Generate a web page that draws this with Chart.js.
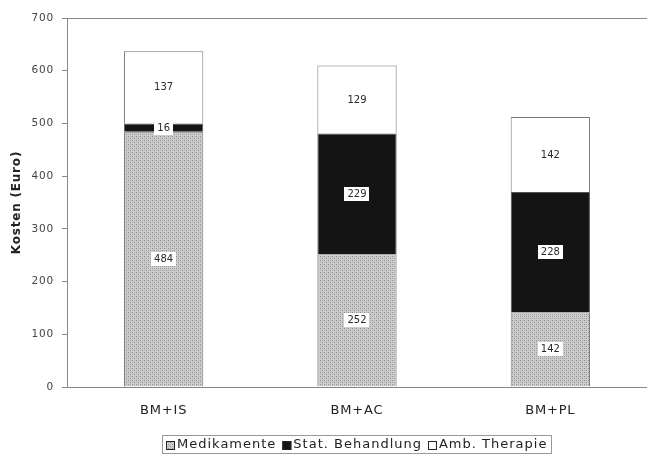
<!DOCTYPE html>
<html>
<head>
<meta charset="utf-8">
<script src="https://cdn.jsdelivr.net/npm/chart.js@4.4.1/dist/chart.umd.min.js"></script>
<style>
  html, body { margin: 0; padding: 0; background: #fff; }
  #wrap { width: 647px; height: 454px; }
</style>
</head>
<body>
<div id="wrap"><canvas id="c" width="647" height="454"></canvas></div>
<script>
// Treatment strategies and their cost components (Euro)
const categories = ['BM+IS', 'BM+AC', 'BM+PL'];
const medikamente = [484, 252, 142];
const stationaer = [16, 229, 228];
const ambulant = [137, 129, 142];
const yTicks = [0, 100, 200, 300, 400, 500, 600, 700];

const FONT = 'DejaVu Sans';

// Fine grey dot hatch used for the drug costs
function makeDotPattern() {
  const p = document.createElement('canvas');
  p.width = 4; p.height = 4;
  const g = p.getContext('2d');
  g.fillStyle = '#cdcdcd';
  g.fillRect(0, 0, 4, 4);
  g.fillStyle = '#8e8e8e';
  g.fillRect(0, 0, 1, 1);
  g.fillRect(2, 2, 1, 1);
  g.fillStyle = '#adadad';
  g.fillRect(2, 0, 1, 1);
  g.fillRect(0, 2, 1, 1);
  return g.createPattern(p, 'repeat');
}
const dotPattern = makeDotPattern();

// Slightly spaced lettering for axis text
const axisLetterSpacing = {
  id: 'axisLetterSpacing',
  beforeDraw(chart) { chart.ctx.letterSpacing = '0.8px'; },
  beforeDatasetsDraw(chart) { chart.ctx.letterSpacing = '0px'; }
};

// White boxed value labels centred in each segment
const segmentLabels = {
  id: 'segmentLabels',
  afterDatasetsDraw(chart) {
    const ctx = chart.ctx;
    ctx.save();
    ctx.letterSpacing = '0px';
    ctx.font = '10px ' + FONT;
    ctx.textAlign = 'center';
    ctx.textBaseline = 'middle';
    chart.data.datasets.forEach((ds, di) => {
      const meta = chart.getDatasetMeta(di);
      meta.data.forEach((el, i) => {
        const v = ds.data[i];
        const x = el.x;
        const y = (el.y + el.base) / 2;
        const txt = String(v);
        const w = ctx.measureText(txt).width + 6;
        const h = 14;
        ctx.fillStyle = '#ffffff';
        ctx.fillRect(Math.round(x - w / 2), Math.round(y - h / 2), Math.round(w), h);
        ctx.fillStyle = '#2a2a2a';
        ctx.fillText(txt, x, y + 0.5);
      });
    });
    ctx.restore();
  }
};

// Top frame line and boxed legend below the axis
const frameAndLegend = {
  id: 'frameAndLegend',
  afterDraw(chart) {
    const ctx = chart.ctx;
    const a = chart.chartArea;
    ctx.save();
    ctx.strokeStyle = '#888888';
    ctx.lineWidth = 1;
    ctx.beginPath();
    ctx.moveTo(a.left, a.top + 0.5);
    ctx.lineTo(chart.width, a.top + 0.5);
    ctx.stroke();

    ctx.font = '13px ' + FONT;
    ctx.letterSpacing = '1px';
    ctx.textBaseline = 'middle';
    ctx.textAlign = 'left';
    const sq = 9, gapSq = 2, gapItem = 6;
    const items = chart.data.datasets.map(ds => ({
      label: ds.label, fill: ds.backgroundColor,
      w: sq + gapSq + ctx.measureText(ds.label).width
    }));
    const total = items.reduce((s, it) => s + it.w, 0) + gapItem * (items.length - 1);
    const padX = 4;
    const cx = (a.left + a.right) / 2;
    const boxL = Math.round(cx - total / 2 - padX);
    const boxW = Math.round(total + 2 * padX);
    const boxT = 435, boxH = 18;
    ctx.strokeStyle = '#999999';
    ctx.strokeRect(boxL + 0.5, boxT + 0.5, boxW, boxH);
    const cy = boxT + boxH / 2 + 1;
    let x = boxL + padX;
    items.forEach(it => {
      ctx.fillStyle = it.fill;
      ctx.fillRect(x, Math.round(cy - sq / 2), sq, sq);
      ctx.strokeStyle = '#222222';
      ctx.strokeRect(x + 0.5, Math.round(cy - sq / 2) + 0.5, sq - 1, sq - 1);
      ctx.fillStyle = '#222222';
      ctx.fillText(it.label, x + sq + gapSq, cy);
      x += it.w + gapItem;
    });
    ctx.restore();
  }
};

new Chart(document.getElementById('c'), {
  type: 'bar',
  data: {
    labels: categories,
    datasets: [
      { label: 'Medikamente', data: medikamente, backgroundColor: dotPattern,
        borderColor: '#777777', borderWidth: 1 },
      { label: 'Stat. Behandlung', data: stationaer, backgroundColor: '#141414',
        borderColor: '#555555', borderWidth: 1 },
      { label: 'Amb. Therapie', data: ambulant, backgroundColor: '#ffffff',
        borderColor: '#777777', borderWidth: 1 }
    ]
  },
  options: {
    responsive: false,
    animation: false,
    events: [],
    layout: { padding: { top: 18, left: 0, right: 0, bottom: 0 } },
    datasets: { bar: { categoryPercentage: 0.41, barPercentage: 1 } },
    plugins: {
      legend: { display: false },
      tooltip: { enabled: false },
      title: { display: false }
    },
    scales: {
      x: {
        stacked: true,
        grid: { drawOnChartArea: false, drawTicks: false },
        border: { color: '#888888', width: 1 },
        ticks: { font: { family: FONT, size: 13 }, color: '#222222', padding: 16 },
        afterFit(scale) { scale.height = 67; }
      },
      y: {
        stacked: true,
        min: 0,
        max: 700,
        afterBuildTicks(scale) { scale.ticks = yTicks.map(v => ({ value: v })); },
        grid: { drawOnChartArea: false, drawTicks: true, tickLength: 5, color: '#888888' },
        border: { color: '#888888', width: 1 },
        ticks: { font: { family: FONT, size: 10.5 }, color: '#444444', padding: 8 },
        title: {
          display: true, text: 'Kosten (Euro)',
          font: { family: FONT, size: 12, weight: 'bold' }, color: '#222222',
          padding: { top: 10, bottom: 0 }
        },
        afterFit(scale) { scale.width = 67; }
      }
    }
  },
  plugins: [axisLetterSpacing, segmentLabels, frameAndLegend]
});
</script>
</body>
</html>
